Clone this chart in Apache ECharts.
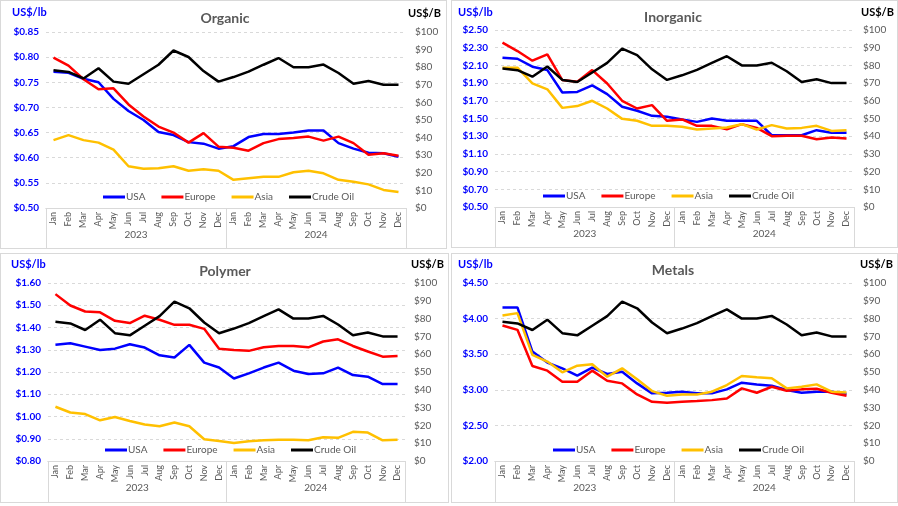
<!DOCTYPE html>
<html>
<head>
<meta charset="utf-8">
<script src="https://cdn.jsdelivr.net/npm/echarts@6/dist/echarts.min.js"></script>
<style>
  html, body { margin: 0; padding: 0; background: #ffffff; }
  body { width: 898px; height: 506px; position: relative; overflow: hidden; }
  .chart { position: absolute; }
  .frame { position: absolute; box-sizing: border-box; border: 1px solid #d9d9d9; pointer-events: none; }
</style>
</head>
<body>
<div id="c1" class="chart"></div><div id="f1" class="frame"></div>
<div id="c2" class="chart"></div><div id="f2" class="frame"></div>
<div id="c3" class="chart"></div><div id="f3" class="frame"></div>
<div id="c4" class="chart"></div><div id="f4" class="frame"></div>
<script>
// ---------------- DATA ----------------
const months = ['Jan','Feb','Mar','Apr','May','Jun','Jul','Aug','Sep','Oct','Nov','Dec',
                'Jan','Feb','Mar','Apr','May','Jun','Jul','Aug','Sep','Oct','Nov','Dec'];
const years = ['2023', '2024'];
const seriesNames = ['USA', 'Europe', 'Asia', 'Crude Oil'];

const crudeOil = [78.2, 77.3, 73.6, 79.4, 71.8, 70.6, 76.0, 81.4, 89.5, 85.8, 77.8, 71.8,
                  74.4, 77.5, 81.4, 85.2, 80.0, 80.0, 81.5, 76.7, 70.6, 72.2, 70.0, 70.0];
const crudeTicks = [0, 10, 20, 30, 40, 50, 60, 70, 80, 90, 100];

const organicTitle = 'Organic';
const organicTicks = [0.50, 0.55, 0.60, 0.65, 0.70, 0.75, 0.80, 0.85];
const organicUSA = [0.771, 0.769, 0.757, 0.750, 0.717, 0.693, 0.675, 0.651, 0.645, 0.631, 0.628, 0.618,
                    0.623, 0.641, 0.647, 0.647, 0.650, 0.654, 0.654, 0.629, 0.618, 0.610, 0.609, 0.602];
const organicEurope = [0.799, 0.783, 0.756, 0.736, 0.738, 0.706, 0.682, 0.662, 0.650, 0.630, 0.649, 0.622,
                       0.620, 0.614, 0.629, 0.637, 0.639, 0.642, 0.634, 0.642, 0.629, 0.606, 0.609, 0.604];
const organicAsia = [0.635, 0.645, 0.635, 0.630, 0.616, 0.583, 0.578, 0.579, 0.583, 0.574, 0.577, 0.574,
                     0.556, 0.559, 0.562, 0.562, 0.571, 0.574, 0.569, 0.556, 0.552, 0.547, 0.536, 0.532];

const inorganicTitle = 'Inorganic';
const inorganicTicks = [0.50, 0.70, 0.90, 1.10, 1.30, 1.50, 1.70, 1.90, 2.10, 2.30, 2.50];
const inorganicUSA = [2.187, 2.175, 2.085, 2.047, 1.794, 1.800, 1.874, 1.775, 1.632, 1.587, 1.530, 1.519,
                      1.489, 1.462, 1.500, 1.474, 1.474, 1.474, 1.311, 1.311, 1.311, 1.368, 1.338, 1.338];
const inorganicEurope = [2.357, 2.262, 2.153, 2.225, 1.934, 1.915, 2.047, 1.896, 1.700, 1.613, 1.651, 1.474,
                         1.489, 1.417, 1.417, 1.379, 1.436, 1.394, 1.300, 1.306, 1.306, 1.266, 1.285, 1.274];
const inorganicAsia = [2.074, 2.074, 1.896, 1.830, 1.620, 1.640, 1.700, 1.613, 1.496, 1.474, 1.417, 1.417,
                       1.406, 1.375, 1.387, 1.398, 1.436, 1.375, 1.425, 1.387, 1.394, 1.417, 1.360, 1.368];

const polymerTitle = 'Polymer';
const polymerTicks = [0.80, 0.90, 1.00, 1.10, 1.20, 1.30, 1.40, 1.50, 1.60];
const polymerUSA = [1.322, 1.329, 1.314, 1.299, 1.305, 1.325, 1.310, 1.275, 1.265, 1.322, 1.242, 1.220,
                    1.171, 1.194, 1.220, 1.242, 1.206, 1.191, 1.194, 1.220, 1.186, 1.179, 1.146, 1.146];
const polymerEurope = [1.550, 1.499, 1.472, 1.468, 1.430, 1.420, 1.453, 1.435, 1.412, 1.412, 1.394, 1.304,
                       1.299, 1.295, 1.311, 1.317, 1.317, 1.311, 1.337, 1.347, 1.317, 1.292, 1.269, 1.272];
const polymerAsia = [1.044, 1.018, 1.011, 0.983, 0.998, 0.980, 0.964, 0.956, 0.973, 0.956, 0.898, 0.890,
                     0.881, 0.889, 0.893, 0.896, 0.896, 0.893, 0.907, 0.904, 0.931, 0.928, 0.893, 0.896];

const metalsTitle = 'Metals';
const metalsTicks = [2.00, 2.50, 3.00, 3.50, 4.00, 4.50];
const metalsUSA = [4.157, 4.157, 3.537, 3.382, 3.300, 3.198, 3.311, 3.222, 3.255, 3.090, 2.950, 2.959,
                   2.973, 2.950, 2.950, 3.006, 3.100, 3.076, 3.057, 2.997, 2.959, 2.973, 2.973, 2.940];
const metalsEurope = [3.903, 3.842, 3.335, 3.269, 3.114, 3.114, 3.269, 3.128, 3.090, 2.935, 2.832, 2.818,
                      2.832, 2.841, 2.855, 2.879, 3.020, 2.959, 3.043, 2.987, 3.006, 3.015, 2.959, 2.916];
const metalsAsia = [4.044, 4.077, 3.490, 3.396, 3.245, 3.339, 3.358, 3.184, 3.302, 3.147, 2.982, 2.916,
                    2.935, 2.935, 2.973, 3.067, 3.194, 3.175, 3.161, 3.020, 3.043, 3.076, 2.973, 2.963];

const leftUnit = 'US$/lb';
const rightUnit = 'US$/B';

// ---------------- LAYOUT / STYLE ----------------
const FONT = 'Lato, "Liberation Sans", sans-serif';
const colors = ['#0000ff', '#ff0000', '#ffc000', '#000000'];

const panels = [
  { el: 'c1', frame: 'f1', x: 0,   y: 0,   w: 447, h: 249, title: organicTitle, ticks: organicTicks,
    data: [organicUSA, organicEurope, organicAsia],
    grid: { left: 46, right: 41, top: 32, bottom: 41 }, titleXY: [225, 18],
    unitL: [12, 12], unitR: [408, 13], legend: [103, 192] },
  { el: 'c2', frame: 'f2', x: 451, y: 0,   w: 447, h: 248, title: inorganicTitle, ticks: inorganicTicks,
    data: [inorganicUSA, inorganicEurope, inorganicAsia],
    grid: { left: 44, right: 44, top: 30, bottom: 41 }, titleXY: [222, 17],
    unitL: [7, 12], unitR: [410, 12], legend: [92, 191] },
  { el: 'c3', frame: 'f3', x: 0,   y: 253, w: 449, h: 250, title: polymerTitle, ticks: polymerTicks,
    data: [polymerUSA, polymerEurope, polymerAsia],
    grid: { left: 48, right: 44, top: 30, bottom: 42 }, titleXY: [225, 18],
    unitL: [11, 11], unitR: [411, 11], legend: [105, 192] },
  { el: 'c4', frame: 'f4', x: 451, y: 253, w: 447, h: 250, title: metalsTitle, ticks: metalsTicks,
    data: [metalsUSA, metalsEurope, metalsAsia],
    grid: { left: 44, right: 44, top: 30, bottom: 42 }, titleXY: [222, 17],
    unitL: [7, 11], unitR: [409, 11], legend: [102, 192] }
];

function build(p) {
  const div = document.getElementById(p.el);
  Object.assign(div.style, { left: p.x + 'px', top: p.y + 'px', width: p.w + 'px', height: p.h + 'px' });
  const fr = document.getElementById(p.frame);
  Object.assign(fr.style, { left: p.x + 'px', top: p.y + 'px', width: p.w + 'px', height: p.h + 'px' });

  const chart = echarts.init(div, null, { renderer: 'canvas' });
  const yMin = p.ticks[0], yMax = p.ticks[p.ticks.length - 1];
  const series = [];
  for (let i = 0; i < 3; i++) {
    series.push({
      name: seriesNames[i], type: 'line', xAxisIndex: 0, yAxisIndex: 0,
      data: p.data[i], symbol: 'none', smooth: false,
      lineStyle: { color: colors[i], width: 2.5 }, itemStyle: { color: colors[i] },
      z: 3 + i
    });
  }
  series.push({
    name: seriesNames[3], type: 'line', xAxisIndex: 0, yAxisIndex: 1,
    data: crudeOil, symbol: 'none',
    lineStyle: { color: colors[3], width: 2.5 }, itemStyle: { color: colors[3] }, z: 7
  });

  const axisGray = '#d9d9d9';
  const option = {
    animation: false,
    textStyle: { fontFamily: FONT },
    grid: Object.assign({ containLabel: false }, p.grid),
    legend: {
      data: seriesNames, left: p.legend[0], top: p.legend[1],
      icon: 'rect', itemWidth: 22, itemHeight: 3, itemGap: 16, padding: 0,
      textStyle: { color: '#595959', fontSize: 10, fontFamily: FONT, padding: [0, 0, 0, -4] }
    },
    xAxis: [
      {
        type: 'category', data: months, position: 'bottom', boundaryGap: true,
        axisLine: { show: true, lineStyle: { color: axisGray, width: 1 } },
        axisTick: { show: false },
        axisLabel: { rotate: 90, interval: 0, margin: 4, color: '#595959', fontSize: 9, fontFamily: FONT }
      },
      {
        type: 'category', data: years, position: 'bottom', boundaryGap: true,
        axisLine: { show: true, lineStyle: { color: axisGray, width: 1 } },
        axisTick: { show: true, interval: 0, length: 41, lineStyle: { color: axisGray, width: 1 } },
        axisLabel: { interval: 0, margin: 22, color: '#595959', fontSize: 10, fontFamily: FONT }
      }
    ],
    yAxis: [
      {
        type: 'value', min: yMin, max: yMax, position: 'left',
        axisLine: { show: false }, 
        axisTick: { show: false, customValues: p.ticks },
        axisLabel: { customValues: p.ticks, margin: 7, color: '#0000ff', fontWeight: 'bold', fontSize: 10, fontFamily: FONT,
                     formatter: v => '$' + v.toFixed(2) },
        splitLine: { show: true, lineStyle: { color: axisGray, type: [3, 3], width: 1 } }
      },
      {
        type: 'value', min: crudeTicks[0], max: crudeTicks[crudeTicks.length - 1], interval: 10, position: 'right',
        axisLine: { show: false }, axisTick: { show: false },
        axisLabel: { margin: 9, color: '#595959', fontSize: 10, fontFamily: FONT, formatter: v => '$' + v },
        splitLine: { show: false }
      }
    ],
    graphic: [
      { type: 'text', x: p.titleXY[0], y: p.titleXY[1],
        style: { text: p.title, fill: '#595959', font: 'bold 14px ' + FONT, textAlign: 'center', textVerticalAlign: 'middle' } },
      { type: 'text', x: p.unitL[0], y: p.unitL[1],
        style: { text: leftUnit, fill: '#0000ff', font: 'bold 11px ' + FONT, textAlign: 'left', textVerticalAlign: 'middle' } },
      { type: 'text', x: p.unitR[0], y: p.unitR[1],
        style: { text: rightUnit, fill: '#000000', font: 'bold 11px ' + FONT, textAlign: 'left', textVerticalAlign: 'middle' } }
    ],
    series: series
  };
  chart.setOption(option);
}
panels.forEach(build);
</script>
</body>
</html>
